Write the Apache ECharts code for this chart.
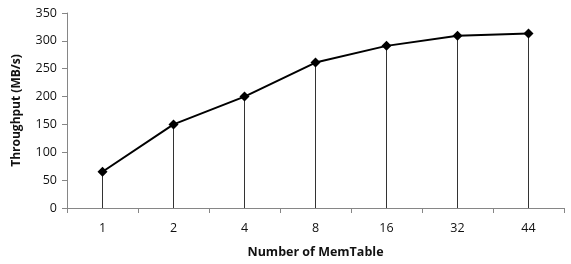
<!DOCTYPE html>
<html>
<head>
<meta charset="utf-8">
<script src="https://cdn.jsdelivr.net/npm/echarts@6/dist/echarts.min.js"></script>
<style>
  html, body { margin: 0; padding: 0; background: #fff; }
  #chart { width: 571px; height: 264px; }
</style>
</head>
<body>
<div id="chart"></div>
<script>
var categories = ['1', '2', '4', '8', '16', '32', '44'];
var throughput = [65, 150, 200, 261, 291, 309, 313];

var font = 'Open Sans';
var myChart = echarts.init(document.getElementById('chart'));
myChart.setOption({
    animation: false,
    grid: {left: 67, right: 7, top: 13, bottom: 56},
    xAxis: {
        type: 'category',
        data: categories,
        boundaryGap: true,
        name: 'Number of MemTable',
        nameLocation: 'middle',
        nameGap: 38,
        nameTextStyle: {fontFamily: font, fontWeight: 'bold', fontSize: 12.5, color: '#111'},
        axisLine: {lineStyle: {color: '#868686', width: 1}},
        axisTick: {show: true, alignWithLabel: false, length: 5, lineStyle: {color: '#868686'}},
        axisLabel: {fontFamily: font, fontSize: 12.5, color: '#111', margin: 14}
    },
    yAxis: {
        type: 'value',
        min: 0,
        max: 350,
        interval: 50,
        name: 'Throughput (MB/s)',
        nameLocation: 'middle',
        nameGap: 44,
        nameTextStyle: {fontFamily: font, fontWeight: 'bold', fontSize: 12, color: '#111'},
        axisLine: {show: true, lineStyle: {color: '#868686', width: 1}},
        axisTick: {show: true, length: 5, lineStyle: {color: '#868686'}},
        splitLine: {show: false},
        axisLabel: {fontFamily: font, fontSize: 12.5, color: '#111', margin: 10}
    },
    series: [
        {
            type: 'bar',
            data: throughput,
            barWidth: 1,
            itemStyle: {color: '#333'},
            silent: true
        },
        {
            type: 'line',
            data: throughput,
            symbol: 'diamond',
            symbolSize: 10,
            lineStyle: {color: '#000', width: 2},
            itemStyle: {color: '#000'}
        }
    ]
});
</script>
</body>
</html>
